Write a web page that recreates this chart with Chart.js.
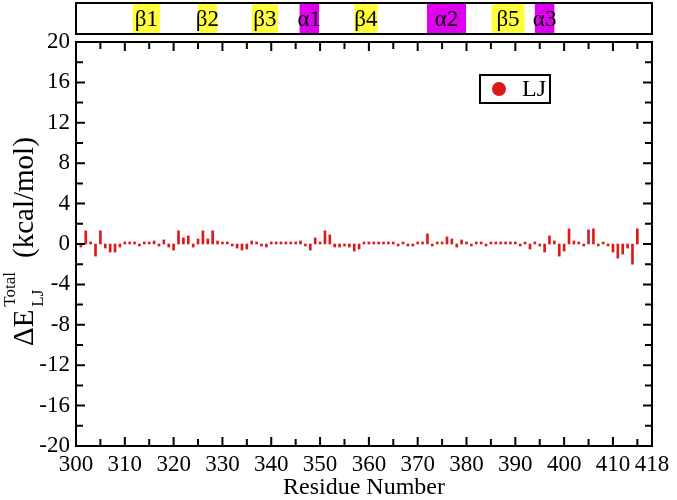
<!DOCTYPE html>
<html>
<head>
<meta charset="utf-8">
<script src="https://cdn.jsdelivr.net/npm/chart.js@4.4.0/dist/chart.umd.min.js"></script>
<style>
  body { margin: 0; background: #fff; }
  canvas { display: block; }
</style>
</head>
<body>
<canvas id="ljChart" width="677" height="500"></canvas>
<script>
// Per-residue LJ energy contribution (kcal/mol)
const residues = [
  301, 302, 303, 304, 305, 306, 307, 308, 309, 310,
  311, 312, 313, 314, 315, 316, 317, 318, 319, 320,
  321, 322, 323, 324, 325, 326, 327, 328, 329, 330,
  331, 332, 333, 334, 335, 336, 337, 338, 339, 340,
  341, 342, 343, 344, 345, 346, 347, 348, 349, 350,
  351, 352, 353, 354, 355, 356, 357, 358, 359, 360,
  361, 362, 363, 364, 365, 366, 367, 368, 369, 370,
  371, 372, 373, 374, 375, 376, 377, 378, 379, 380,
  381, 382, 383, 384, 385, 386, 387, 388, 389, 390,
  391, 392, 393, 394, 395, 396, 397, 398, 399, 400,
  401, 402, 403, 404, 405, 406, 407, 408, 409, 410,
  411, 412, 413, 414, 415
]
const ljEnergy = [
  -0.3, 1.3, 0.2, -1.2, 1.3, -0.4, -0.8, -0.8, -0.3, 0.2,
  0.2, 0.2, -0.2, 0.2, 0.2, 0.3, -0.2, 0.4, -0.3, -0.6,
  1.3, 0.6, 0.8, -0.3, 0.5, 1.3, 0.5, 1.3, 0.3, 0.2,
  0.2, -0.2, -0.4, -0.6, -0.5, 0.3, 0.2, -0.2, -0.3, 0.2,
  0.2, 0.2, 0.2, 0.2, 0.2, 0.3, -0.2, -0.6, 0.6, 0.2,
  1.3, 0.9, -0.3, -0.3, -0.2, -0.3, -0.7, -0.5, 0.2, 0.2,
  0.2, 0.2, 0.2, 0.2, 0.2, -0.2, 0.2, -0.2, -0.2, 0.2,
  0.2, 1.0, -0.2, 0.2, 0.2, 0.7, 0.5, -0.3, 0.4, 0.2,
  -0.2, 0.2, 0.2, -0.2, 0.2, 0.2, 0.2, 0.2, 0.2, 0.2,
  -0.2, 0.2, -0.5, 0.2, -0.2, -0.8, 0.8, 0.3, -1.2, -0.7,
  1.5, 0.3, 0.2, -0.2, 1.4, 1.5, -0.2, 0.2, -0.2, -0.8,
  -1.4, -1.0, -0.4, -2.0, 1.5
]

const xTickValues = [300, 310, 320, 330, 340, 350, 360, 370, 380, 390, 400, 410, 418]
const xMinorTicks = [305, 315, 325, 335, 345, 355, 365, 375, 385, 395, 405, 415]
const yTickValues = [-20, -16, -12, -8, -4, 0, 4, 8, 12, 16, 20]
const yMinorTicks = [-18, -14, -10, -6, -2, 2, 6, 10, 14, 18]

// secondary structure strip
const ssLabels = ['β1', 'β2', 'β3', 'α1', 'β4', 'α2', 'β5', 'α3']
const ssStart = [311.6, 324.9, 336.0, 345.8, 357.0, 371.9, 385.1, 394.0]
const ssEnd = [317.2, 328.9, 341.4, 349.8, 361.8, 379.9, 391.9, 398.0]
const ssType = ['sheet', 'sheet', 'sheet', 'helix', 'sheet', 'helix', 'sheet', 'helix']

const RED = '#dc1a1a'
const SERIF = '"Liberation Serif", "DejaVu Serif", serif'
const ssColors = { sheet: '#ffff3c', helix: '#e000f0' }

const extras = {
  id: 'extras',
  afterDraw(chart) {
    const { ctx, chartArea: a, scales: { x, y } } = chart
    ctx.save()
    ctx.strokeStyle = '#000'
    ctx.lineWidth = 2

    // frame + inward ticks on all four sides
    ctx.strokeRect(a.left, a.top, a.right - a.left, a.bottom - a.top)
    const tickX = (v, len) => {
      const px = x.getPixelForValue(v)
      ctx.beginPath()
      ctx.moveTo(px, a.bottom); ctx.lineTo(px, a.bottom - len)
      ctx.moveTo(px, a.top); ctx.lineTo(px, a.top + len)
      ctx.stroke()
    }
    const tickY = (v, len) => {
      const py = y.getPixelForValue(v)
      ctx.beginPath()
      ctx.moveTo(a.left, py); ctx.lineTo(a.left + len, py)
      ctx.moveTo(a.right, py); ctx.lineTo(a.right - len, py)
      ctx.stroke()
    }
    xTickValues.forEach(v => tickX(v, 9))
    xMinorTicks.forEach(v => tickX(v, 7))
    yTickValues.forEach(v => tickY(v, 9))
    yMinorTicks.forEach(v => tickY(v, 7))

    // secondary structure band
    const bTop = 3, bBot = 34
    ctx.font = '23px ' + SERIF
    ctx.textAlign = 'center'
    ctx.textBaseline = 'middle'
    ssLabels.forEach((lab, i) => {
      const x0 = x.getPixelForValue(ssStart[i])
      const x1 = x.getPixelForValue(ssEnd[i])
      ctx.fillStyle = ssColors[ssType[i]]
      ctx.fillRect(x0, bTop, x1 - x0, bBot - bTop)
      ctx.fillStyle = '#000'
      ctx.fillText(lab, (x0 + x1) / 2, (bTop + bBot) / 2 + 1)
    })
    ctx.strokeRect(a.left, bTop, a.right - a.left, bBot - bTop)

    // legend
    const lx = a.right - 172, ly = a.top + 33
    ctx.strokeRect(lx, ly, 70, 28)
    ctx.fillStyle = RED
    ctx.beginPath()
    ctx.arc(lx + 19, ly + 14, 7, 0, Math.PI * 2)
    ctx.fill()
    ctx.fillStyle = '#000'
    ctx.font = '24px ' + SERIF
    ctx.textAlign = 'left'
    ctx.fillText(chart.data.datasets[0].label, lx + 42, ly + 15)

    // y axis title: ΔE^Total_LJ (kcal/mol)
    ctx.translate(33, 346)
    ctx.rotate(-Math.PI / 2)
    ctx.textAlign = 'left'
    ctx.textBaseline = 'alphabetic'
    ctx.font = '29px ' + SERIF
    ctx.fillText('ΔE', 0, 0)
    let pos = ctx.measureText('ΔE').width + 3
    ctx.font = '17px ' + SERIF
    ctx.fillText('Total', pos, -18)
    ctx.fillText('LJ', pos, 10)
    pos += ctx.measureText('Total').width + 14
    ctx.font = '29px ' + SERIF
    ctx.fillText('(kcal/mol)', pos, 0)

    ctx.restore()
  }
}

new Chart(document.getElementById('ljChart'), {
  type: 'bar',
  data: {
    datasets: [{
      label: 'LJ',
      data: residues.map((r, i) => ({ x: r, y: ljEnergy[i] })),
      backgroundColor: RED,
      borderWidth: 0,
      barThickness: 2
    }]
  },
  options: {
    responsive: false,
    animation: false,
    layout: { padding: { top: 42, right: 25, left: 0, bottom: 0 } },
    plugins: {
      legend: { display: false },
      tooltip: { enabled: false }
    },
    scales: {
      x: {
        type: 'linear',
        min: 300,
        max: 418,
        offset: false,
        afterBuildTicks: s => { s.ticks = xTickValues.map(v => ({ value: v })) },
        afterFit: s => { s.height = 54 },
        grid: { display: false, drawTicks: false },
        border: { display: false },
        ticks: {
          autoSkip: false,
          maxRotation: 0,
          padding: 5,
          color: '#000',
          font: { family: SERIF, size: 23 }
        },
        title: {
          display: true,
          text: 'Residue Number',
          color: '#000',
          padding: 0,
          font: { family: SERIF, size: 24, lineHeight: 1 }
        }
      },
      y: {
        min: -20,
        max: 20,
        afterBuildTicks: s => { s.ticks = yTickValues.map(v => ({ value: v })) },
        afterFit: s => { s.width = 76 },
        grid: { display: false, drawTicks: false },
        border: { display: false },
        ticks: {
          padding: 6,
          color: '#000',
          font: { family: SERIF, size: 23 }
        }
      }
    }
  },
  plugins: [extras]
})
</script>
</body>
</html>
